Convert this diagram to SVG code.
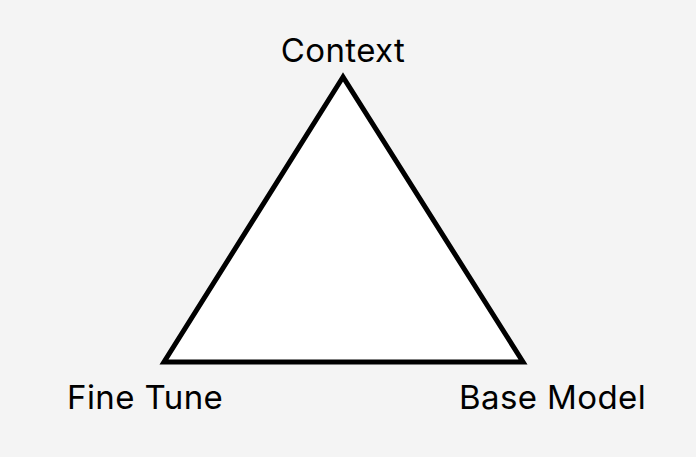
<svg xmlns="http://www.w3.org/2000/svg" width="696" height="457" viewBox="0 0 696 457">
<style>
.lbl{font-family:Inter,"Liberation Sans",sans-serif;font-size:33px;letter-spacing:0.4px;fill:#000}
</style>
<rect width="696" height="457" fill="#f4f4f4"/>
<g id="connectors">
<polygon points="343,77 164,362 523,362" fill="#fff" stroke="#000" stroke-width="5" stroke-linejoin="miter"/>
</g>
<g id="context"><text class="lbl" x="343" y="62" text-anchor="middle">Context</text></g>
<g id="finetune"><text class="lbl" x="67" y="409">Fine Tune</text></g>
<g id="basemodel"><text class="lbl" x="459" y="409">Base Model</text></g>
</svg>
